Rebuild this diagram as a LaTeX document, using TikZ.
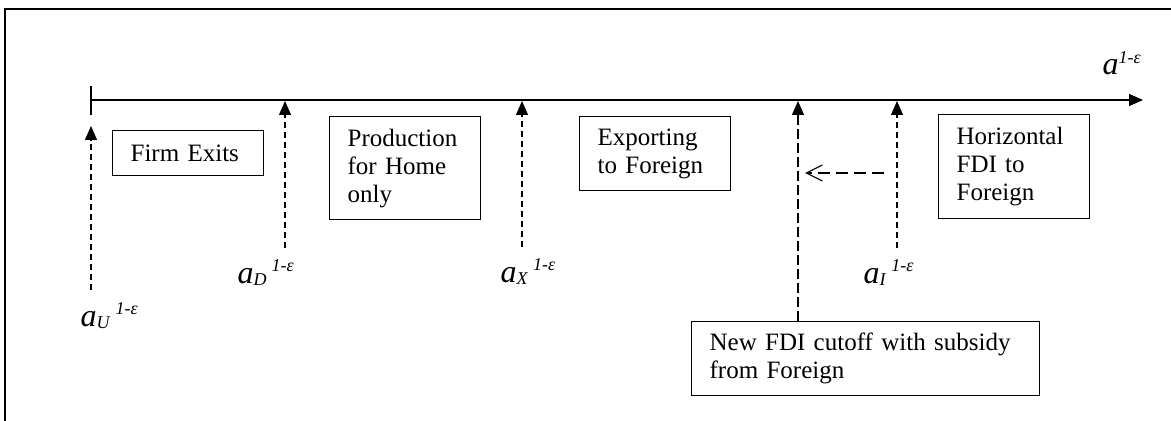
\documentclass[tikz,border=0pt]{standalone}
\usepackage{fontspec}
\setmainfont{Liberation Serif}
\usetikzlibrary{arrows.meta}

\newcommand{\cutlab}[1]{\textit{a}\raisebox{-1pt}{\fontsize{9}{9}\selectfont\textit{#1}}\hspace{2.5pt}\raisebox{6pt}{\fontsize{9}{9}\selectfont\textit{1-ε}}}

\begin{document}
\begin{tikzpicture}[x=0.5pt, y=-0.5pt, line width=0.6pt,
    box/.style={draw, anchor=north west, align=left, text width=57.5pt, inner xsep=9pt, inner ysep=0pt, font=\fontsize{12.5}{14}\selectfont},
    lab/.style={anchor=base west, inner sep=0pt, font=\fontsize{16}{16}\selectfont},
    cut/.style={dash pattern=on 3pt off 2pt, -{Triangle[length=7pt,width=6pt]}}]
    \useasboundingbox (0,0) rectangle (1171,421);
    \draw (5,421) -- (5,9) -- (1171,9);

    % axis
    \coordinate (O) at (91,100);
    \coordinate (E) at (1143,100);
    \draw (91,86) -- (91,115);
    \draw[-{Triangle[length=7pt,width=6pt]}] (O) -- (E);
    \node[lab] (a) at (1102,75) {\textit{a}\raisebox{5.5pt}{\fontsize{9}{9}\selectfont\textit{1-ε}}};

    % regions
    \node[box, minimum height=22.5pt] (exit) at (112,130) {Firm Exits};
    \node[box, minimum height=51.5pt] (home) at (329,116) {Production\\for Home\\only};
    \node[box, minimum height=37pt] (export) at (579,116) {Exporting\\to Foreign};
    \node[box, minimum height=52pt] (hfdi) at (938,114) {Horizontal\\FDI to\\Foreign};
    \node[box, text width=156pt, minimum height=37pt] (newfdi) at (691,321) {\mbox{New FDI cutoff with subsidy}\\from Foreign};

    % cutoffs
    \coordinate (uT) at (91,126);
    \coordinate (uB) at (91,290);
    \coordinate (dT) at (285,101);
    \coordinate (dB) at (285,248);
    \coordinate (xT) at (522,101);
    \coordinate (xB) at (522,247);
    \coordinate (iT) at (897,101);
    \coordinate (iB) at (897,248);
    \coordinate (fT) at (798,101);
    \draw[cut] (uB) -- (uT);
    \draw[cut] (dB) -- (dT);
    \draw[cut] (xB) -- (xT);
    \draw[cut] (iB) -- (iT);
    \node[lab] (aU) at (80,327) {\cutlab{U}};
    \node[lab] (aD) at (237,284) {\cutlab{D}};
    \node[lab] (aX) at (500,283) {\cutlab{X}};
    \node[lab] (aI) at (863,284) {\cutlab{I}};

    % subsidy shift
    \draw[dash pattern=on 5pt off 2pt, -{Triangle[length=7pt,width=6pt]}] (newfdi.north -| fT) -- (fT);
    \coordinate (sR) at (884,173);
    \coordinate (sL) at (805,173);
    \draw[dash pattern=on 6pt off 3pt, -{Straight Barb[length=8pt,width=8pt]}] (sR) -- (sL);
\end{tikzpicture}
\end{document}
